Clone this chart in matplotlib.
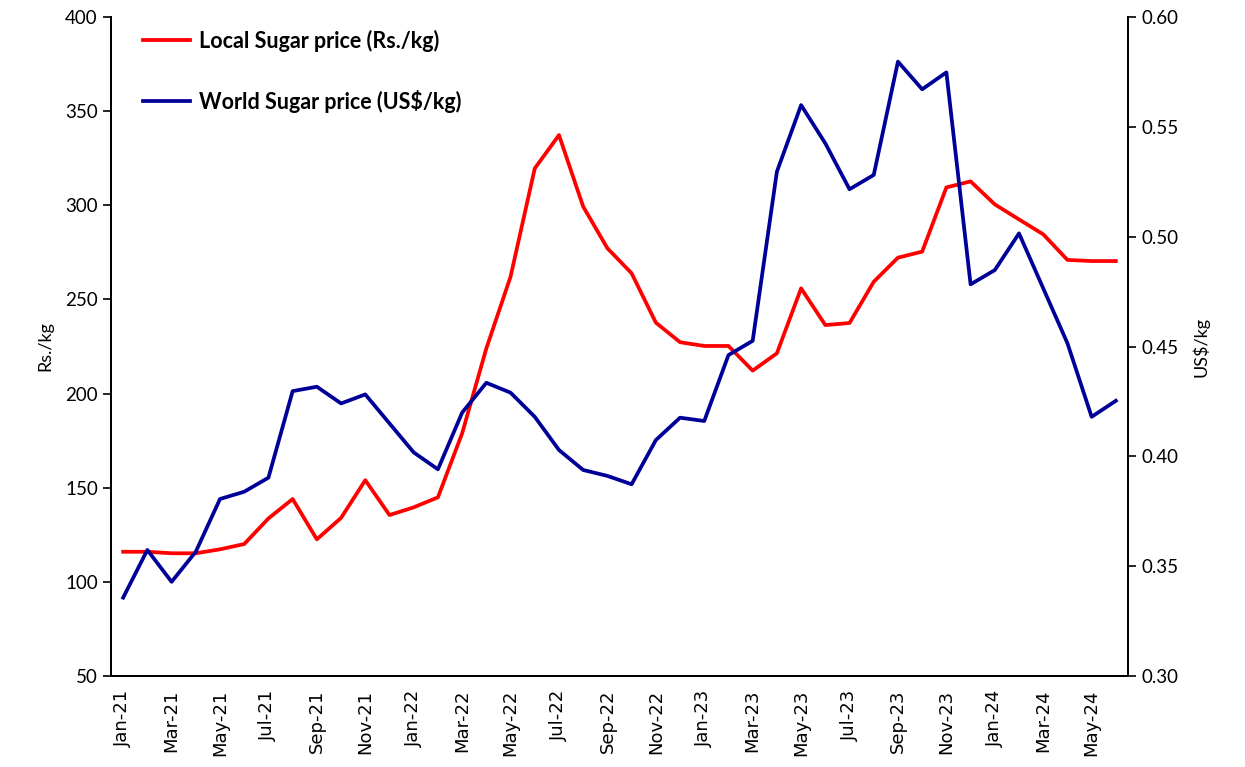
import matplotlib.pyplot as plt
import numpy as np

plt.rcParams['font.family'] = ['Lato', 'DejaVu Sans']

months = ["Jan-21", "Feb-21", "Mar-21", "Apr-21", "May-21", "Jun-21", "Jul-21", "Aug-21",
          "Sep-21", "Oct-21", "Nov-21", "Dec-21", "Jan-22", "Feb-22", "Mar-22", "Apr-22",
          "May-22", "Jun-22", "Jul-22", "Aug-22", "Sep-22", "Oct-22", "Nov-22", "Dec-22",
          "Jan-23", "Feb-23", "Mar-23", "Apr-23", "May-23", "Jun-23", "Jul-23", "Aug-23",
          "Sep-23", "Oct-23", "Nov-23", "Dec-23", "Jan-24", "Feb-24", "Mar-24", "Apr-24",
          "May-24", "Jun-24"]

# local sugar price, Rs./kg
local_price = [116.0, 116.0, 115.2, 115.2, 117.3, 120.1, 133.7, 144.0, 122.6, 134.0,
               154.0, 135.5, 139.6, 144.9, 178.9, 224.0, 262.1, 319.6, 337.3, 299.3,
               277.2, 263.9, 237.7, 227.3, 225.3, 225.3, 212.2, 221.4, 255.9, 236.4,
               237.5, 259.4, 272.2, 275.4, 309.5, 312.7, 300.5, 292.5, 284.6, 271.0,
               270.4, 270.4]

# world sugar price, US$/kg
world_price = [0.3357, 0.3574, 0.3429, 0.3566, 0.3806, 0.3839, 0.3903, 0.4297, 0.4317, 0.4241,
               0.4282, 0.4150, 0.4018, 0.3941, 0.4199, 0.4335, 0.4290, 0.4180, 0.4029, 0.3938,
               0.3911, 0.3873, 0.4074, 0.4176, 0.4161, 0.4461, 0.4526, 0.5296, 0.5599, 0.5425,
               0.5216, 0.5281, 0.5797, 0.5671, 0.5748, 0.4783, 0.4848, 0.5015, 0.4765, 0.4515,
               0.4180, 0.4253]

x = np.arange(len(months))

fig = plt.figure(figsize=(12.45, 7.67), dpi=100)
ax = fig.add_axes([0.0892, 0.1186, 0.8168, 0.8592])
ax2 = ax.twinx()

l1, = ax.plot(x, local_price, color="#FF0000", lw=2.7, label="Local Sugar price (Rs./kg)")
l2, = ax2.plot(x, world_price, color="#000099", lw=2.7, label="World Sugar price (US$/kg)")

ax.set_xlim(-0.5, len(months) - 0.5)
ax.set_ylim(50, 400)
ax.set_yticks(np.arange(50, 401, 50))
ax2.set_ylim(0.30, 0.60)
ax2.set_yticks(np.arange(0.30, 0.601, 0.05))
ax2.set_yticklabels([f"{v:.2f}" for v in np.arange(0.30, 0.601, 0.05)])

ax.tick_params(axis="x", length=0, pad=10)
ax.tick_params(axis="y", labelsize=13.5, direction="out", length=6, width=1.2)
ax2.tick_params(axis="y", labelsize=13.5, direction="out", length=6, width=1.2)

ax.set_xticks(x[::2])
ax.set_xticklabels(months[::2], rotation=90, fontfamily="DejaVu Sans", fontsize=13)

ax.set_ylabel("Rs./kg", fontsize=13, labelpad=8)
ax2.set_ylabel("US$/kg", fontsize=13, labelpad=10)

for a in (ax, ax2):
    a.spines["top"].set_visible(False)
    for s in ("left", "right", "bottom"):
        a.spines[s].set_linewidth(1.4)

ax.legend(handles=[l1, l2], loc="upper left", frameon=False, handlelength=2.2,
          handletextpad=0.4, labelspacing=1.75, prop={"weight": "bold", "size": 15.5},
          bbox_to_anchor=(0.012, 1.01))

fig.savefig("out.png", dpi=100)
